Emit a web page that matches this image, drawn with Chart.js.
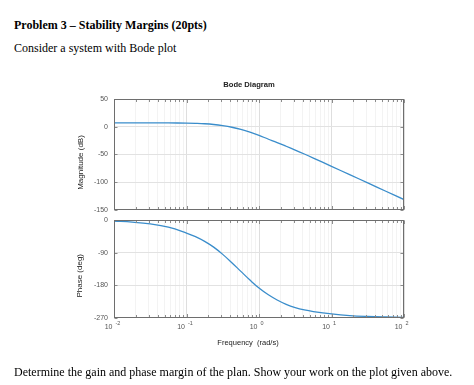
<!DOCTYPE html>
<html>
<head>
<meta charset="utf-8">
<script src="https://cdn.jsdelivr.net/npm/chart.js@4.4.0/dist/chart.umd.min.js"></script>
<style>
body {
  margin: 0;
  background: #fff;
  width: 474px;
  height: 385px;
  overflow: hidden;
  position: relative;
  font-family: "Liberation Serif", "Times New Roman", serif;
  color: #000;
}
.txt {
  position: absolute;
  left: 14px;
  font-size: 12px;
  line-height: 12px;
  white-space: nowrap;
}
canvas {
  position: absolute;
  left: 0;
}
</style>
</head>
<body>
<div class="txt" style="top:19px;font-weight:bold">Problem 3 – Stability Margins (20pts)</div>
<div class="txt" style="top:42px">Consider a system with Bode plot</div>
<canvas id="graficoMag" width="474" height="150" style="top:70px"></canvas>
<canvas id="graficoFase" width="474" height="165" style="top:200px"></canvas>
<div class="txt" style="top:366px">Determine the gain and phase margin of the plan. Show your work on the plot given above.</div>

<script>
var frequencia = [0.01, 0.0178, 0.0316, 0.0562, 0.1, 0.133, 0.178, 0.237, 0.316, 0.422, 0.562, 0.75, 1, 1.33, 1.78, 2.37, 3.16, 4.22, 5.62, 10, 17.8, 31.6, 56.2, 100];
var magnitude = [7, 7, 6.9, 6.8, 6.4, 6.0, 5.3, 4.0, 1.9, -1.0, -5.0, -10.0, -15.8, -22.2, -28.6, -35.3, -42.2, -49.3, -56.6, -71.6, -86.5, -101.5, -116.5, -131.5];
var fase = [-3, -6, -11, -20, -36, -46, -59, -75, -95, -118, -142, -166, -188, -206, -221, -233, -242, -248.5, -253, -259.5, -264, -266.5, -268, -269];
var expoentes = [-2, -1, 0, 1, 2];
var ticksMag = [50, 0, -50, -100, -150];
var ticksFase = [0, -90, -180, -270];

var fonte = '"Liberation Sans", Arial, sans-serif';
var corLinha = "#3a8dcb";

var ticksX = [];
for (var i = 0; i < expoentes.length; i++) {
  var base = Math.pow(10, expoentes[i]);
  if (i == expoentes.length - 1) {
    ticksX.push(base);
  } else {
    for (var k = 1; k <= 9; k++) {
      ticksX.push(k * base);
    }
  }
}

function ehDecada(v) {
  var l = Math.log10(v);
  return Math.abs(l - Math.round(l)) < 1e-6;
}

function pontos(ys) {
  var lista = [];
  for (var i = 0; i < frequencia.length; i++) {
    lista.push({ x: frequencia[i], y: ys[i] });
  }
  return lista;
}

var molduraPlugin = {
  id: "moldura",
  afterDraw: function (chart, args, opts) {
    var ctx = chart.ctx;
    var a = chart.chartArea;
    var sx = chart.scales.x;
    var sy = chart.scales.y;
    var L = Math.round(a.left) + 0.5;
    var R = Math.round(a.right) - 0.5;
    var T = Math.round(a.top) + 0.5;
    var B = Math.round(a.bottom) - 0.5;
    ctx.save();
    ctx.lineWidth = 1;
    ctx.strokeStyle = "#8c8c8c";
    ctx.beginPath();
    sx.ticks.forEach(function (t) {
      var px = Math.round(sx.getPixelForValue(t.value)) + 0.5;
      var tam = ehDecada(t.value) ? 3.5 : 2.5;
      ctx.moveTo(px, T);
      ctx.lineTo(px, T + tam);
      ctx.moveTo(px, B);
      ctx.lineTo(px, B - tam);
    });
    sy.ticks.forEach(function (t) {
      var py = Math.round(sy.getPixelForValue(t.value)) + 0.5;
      ctx.moveTo(L, py);
      ctx.lineTo(L + 3, py);
      ctx.moveTo(R, py);
      ctx.lineTo(R - 3, py);
    });
    ctx.stroke();
    ctx.strokeStyle = "#6e6e6e";
    ctx.strokeRect(L, T, R - L, B - T);

    ctx.fillStyle = "#222";
    ctx.textAlign = "center";
    ctx.textBaseline = "middle";
    if (opts.titulo) {
      ctx.font = "bold 7.6px " + fonte;
      ctx.fillText(opts.titulo, opts.tituloX, opts.tituloY);
    }
    ctx.font = "8px " + fonte;
    ctx.save();
    ctx.translate(opts.rotuloX, opts.rotuloY);
    ctx.rotate(-Math.PI / 2);
    ctx.fillText(opts.rotulo, 0, 0);
    ctx.restore();

    if (opts.eixoX) {
      ctx.font = "7.5px " + fonte;
      ctx.fillText(opts.eixoX, opts.eixoXx, opts.eixoXy);
      ctx.fillStyle = "#555";
      expoentes.forEach(function (e) {
        var px = sx.getPixelForValue(Math.pow(10, e));
        ctx.font = "7px " + fonte;
        ctx.textAlign = "right";
        ctx.fillText("10", px - 1.5, B + 9.5);
        ctx.font = "5.5px " + fonte;
        ctx.textAlign = "left";
        ctx.fillText(String(e), px + 1.5, B + 6);
      });
    }
    ctx.restore();
  },
};

function criarGrafico(id, ys, yMin, yMax, yTicks, alturaX, topo, extras) {
  return new Chart(document.getElementById(id), {
    type: "line",
    data: {
      datasets: [
        {
          data: pontos(ys),
          borderColor: corLinha,
          borderWidth: 1.3,
          pointRadius: 0,
          tension: 0.4,
        },
      ],
    },
    options: {
      responsive: false,
      animation: false,
      layout: { padding: { left: 72, right: 70, top: topo, bottom: 0 } },
      plugins: {
        legend: { display: false },
        tooltip: { enabled: false },
        moldura: extras,
      },
      scales: {
        x: {
          type: "logarithmic",
          min: 0.01,
          max: 100,
          ticks: { display: false },
          border: { display: false },
          grid: {
            drawTicks: false,
            color: function (c) {
              return ehDecada(c.tick.value) ? "#dedede" : "#f3f3f3";
            },
          },
          afterBuildTicks: function (s) {
            s.ticks = ticksX.map(function (v) {
              return { value: v };
            });
          },
          afterFit: function (s) {
            s.height = alturaX;
          },
        },
        y: {
          min: yMin,
          max: yMax,
          border: { display: false },
          grid: { drawTicks: false, color: "#e2e2e2" },
          ticks: {
            padding: 6,
            color: "#555",
            font: { family: fonte, size: 7 },
          },
          afterBuildTicks: function (s) {
            s.ticks = yTicks.map(function (v) {
              return { value: v };
            });
          },
          afterFit: function (s) {
            s.width = 42;
          },
        },
      },
    },
    plugins: [molduraPlugin],
  });
}

criarGrafico("graficoMag", magnitude, -150, 50, ticksMag, 9.5, 29, {
  titulo: "Bode Diagram",
  tituloX: 249,
  tituloY: 15,
  rotulo: "Magnitude (dB)",
  rotuloX: 81,
  rotuloY: 92.5,
});

criarGrafico("graficoFase", fase, -270, 0, ticksFase, 47.3, 20, {
  rotulo: "Phase (deg)",
  rotuloX: 80,
  rotuloY: 75.8,
  eixoX: "Frequency  (rad/s)",
  eixoXx: 248,
  eixoXy: 143,
});
</script>
</body>
</html>
